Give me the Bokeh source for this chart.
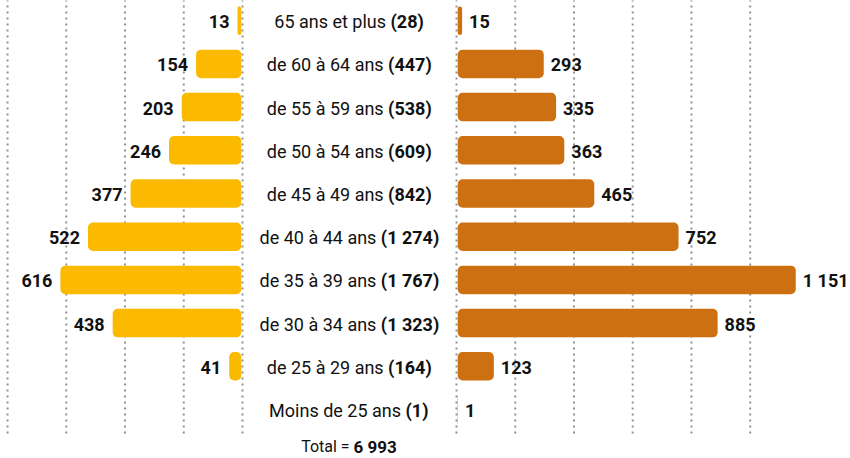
from bokeh.plotting import figure
from bokeh.models import ColumnDataSource, Range1d
from bokeh.core.properties import value
from bokeh.embed import file_html
from bokeh.resources import INLINE

# ---------------- data ----------------
ages = ["Moins de 25 ans", "de 25 à 29 ans", "de 30 à 34 ans", "de 35 à 39 ans",
        "de 40 à 44 ans", "de 45 à 49 ans", "de 50 à 54 ans", "de 55 à 59 ans",
        "de 60 à 64 ans", "65 ans et plus"]
totals = [1, 164, 1323, 1767, 1274, 842, 609, 538, 447, 28]
left_vals = [0, 41, 438, 616, 522, 377, 246, 203, 154, 13]
right_vals = [1, 123, 885, 1151, 752, 465, 363, 335, 293, 15]
grid_left = [0, 200, 400, 600, 800]
grid_right = [0, 200, 400, 600, 800, 1000]
overall_total = sum(totals)

YELLOW = "#FBBA00"
ORANGE = "#CD7011"
TXT = "#111111"
FONT = "Roboto"

# ---------------- layout ----------------
W, H = 850, 458
SCALE = 0.2937           # px per unit
CENTER_PX = 349
GAP = 107 / SCALE        # half width of the central label column
INSET = 1.2 / SCALE
x_start = -CENTER_PX / SCALE
x_end = (W - CENTER_PX) / SCALE
ROW_PX = 43.2
ROW0_PX = 409
y_top = ROW0_PX / ROW_PX
y_bot = (ROW0_PX - H) / ROW_PX


def fr(n):
    return f"{n:,}".replace(",", " ")


# approximate Roboto advance widths (em)
REG = {" ": 0.248, "a": 0.531, "à": 0.531, "d": 0.549, "e": 0.517, "n": 0.539,
       "s": 0.516, "t": 0.319, "p": 0.547, "l": 0.237, "u": 0.538, "i": 0.237,
       "o": 0.557, "M": 0.863, "T": 0.597, "=": 0.553}
BOLD = {" ": 0.243, "(": 0.346, ")": 0.348}


def est(s, table, size):
    w = 0.0
    for ch in s:
        if ch.isdigit():
            w += 0.5615
        else:
            w += table.get(ch, 0.55)
    return w * size


p = figure(width=W, height=H, output_backend="svg", toolbar_location=None,
           x_range=Range1d(x_start, x_end), y_range=Range1d(y_bot, y_top),
           min_border=0, outline_line_color=None)
p.axis.visible = False
p.grid.visible = False
p.background_fill_color = "white"
p.border_fill_color = "white"

# dotted gridlines
gx = [-(GAP + g) for g in grid_left] + [GAP + g for g in grid_right]
g_bottom = (ROW0_PX - 433) / ROW_PX
p.segment(x0=gx, x1=gx, y0=[g_bottom] * len(gx), y1=[y_top + 1] * len(gx),
          line_color="#929292", line_width=2, line_dash="2 4")

rows = list(range(len(ages)))

# left bars
lsrc = ColumnDataSource(dict(
    y=[k for k, v in zip(rows, left_vals) if v > 0],
    left=[-(GAP + v) - INSET for v in left_vals if v > 0],
    right=[-GAP - INSET for v in left_vals if v > 0],
    lab=[fr(v) for v in left_vals if v > 0],
))
p.hbar(y="y", left="left", right="right", height=0.66, source=lsrc,
       fill_color=YELLOW, line_color=None, border_radius=5)
p.text(x="left", y="y", text="lab", source=lsrc, x_offset=-8, y_offset=1,
       text_align="right", text_baseline="middle", text_font=value(FONT),
       text_font_style="bold", text_font_size="18px", text_color=TXT)

# right bars
rsrc = ColumnDataSource(dict(
    y=rows,
    left=[GAP + INSET for v in right_vals],
    right=[GAP + v + INSET for v in right_vals],
    lab=[fr(v) for v in right_vals],
))
p.hbar(y="y", left="left", right="right", height=0.66, source=rsrc,
       fill_color=ORANGE, line_color=None, border_radius=5)
p.text(x="right", y="y", text="lab", source=rsrc, x_offset=7, y_offset=1,
       text_align="left", text_baseline="middle", text_font=value(FONT),
       text_font_style="bold", text_font_size="18px", text_color=TXT)

# central labels: regular part + bold total
CS = 18
reg_txt, bold_txt, split = [], [], []
for a, t in zip(ages, totals):
    b = f"({fr(t)})"
    wr, wb, ws = est(a, REG, CS), est(b, BOLD, CS), 0.248 * CS
    tot = wr + ws + wb
    sp = -tot / 2 + wr + ws / 2
    reg_txt.append(a)
    bold_txt.append(b)
    split.append(sp / SCALE)
gap_u = 0.248 * CS / 2 / SCALE
csrc = ColumnDataSource(dict(
    y=rows,
    xr=[s - gap_u for s in split],
    xb=[s + gap_u for s in split],
    reg=reg_txt, bold=bold_txt,
))
p.text(x="xr", y="y", text="reg", source=csrc, y_offset=1,
       text_align="right", text_baseline="middle", text_font=value(FONT),
       text_font_size=f"{CS}px", text_color=TXT)
p.text(x="xb", y="y", text="bold", source=csrc, y_offset=1,
       text_align="left", text_baseline="middle", text_font=value(FONT),
       text_font_style="bold", text_font_size=f"{CS}px", text_color=TXT)

# total line
TS = 16
TB = 17
t_reg = "Total ="
t_bold = fr(overall_total)
wr, wb, ws = est(t_reg, REG, TS), est(t_bold, BOLD, TB) * 1.05, 0.248 * TS
sp = (-(wr + ws + wb) / 2 + wr + ws / 2) / SCALE
g2 = 0.248 * TS / 2 / SCALE
t_y = (ROW0_PX - 446) / ROW_PX
p.text(x=[sp - g2], y=[t_y], text=[t_reg], text_align="right",
       text_baseline="middle", text_font=value(FONT),
       text_font_size=f"{TS}px", text_color=TXT)
p.text(x=[sp + g2], y=[t_y], text=[t_bold], text_align="left",
       text_baseline="middle", text_font=value(FONT), text_font_style="bold",
       text_font_size=f"{TB}px", text_color=TXT)

open("out.html", "w").write(file_html(p, INLINE))
